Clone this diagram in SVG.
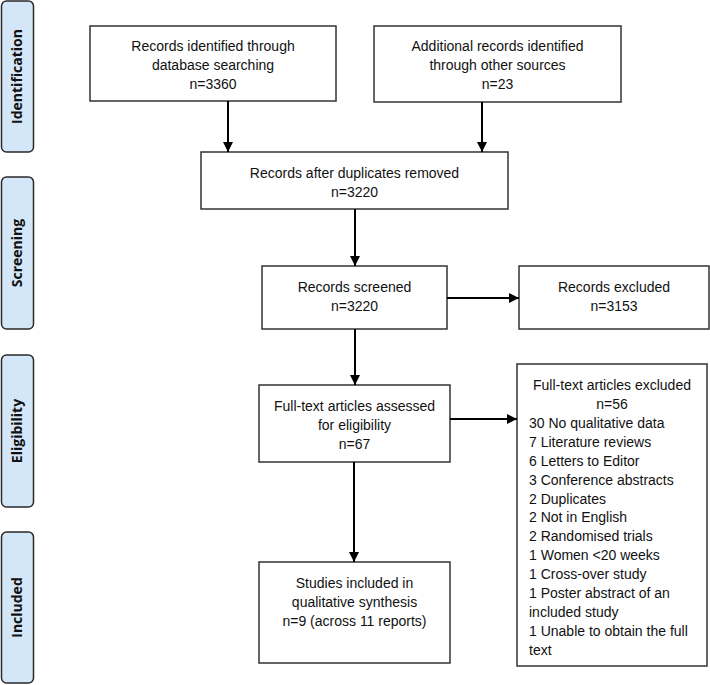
<svg xmlns="http://www.w3.org/2000/svg" width="710" height="685" viewBox="0 0 710 685">
<defs>
<marker id="ah" viewBox="0 0 10 10" refX="10" refY="5" markerWidth="5" markerHeight="5" orient="auto" markerUnits="strokeWidth">
<path d="M0,0 L10,5 L0,10 z" fill="#000"/>
</marker>
<style>
.box{fill:#fff;stroke:#333;stroke-width:1.5}
.side{fill:#d3e7f8;stroke:#2a2a2a;stroke-width:1.5}
.t{font-family:"Liberation Sans",Arial,sans-serif;font-size:14px;fill:#111;text-anchor:middle}
.tl{font-family:"Liberation Sans",Arial,sans-serif;font-size:14px;fill:#111;text-anchor:start}
.st{font-family:"Open Sans","Liberation Sans",sans-serif;font-size:14px;font-weight:bold;fill:#111;text-anchor:middle}
.c{stroke:#000;stroke-width:2;fill:none;marker-end:url(#ah)}
</style>
</defs>
<g id="side-identification"><rect class="side" x="1.5" y="1" width="32" height="151" rx="5"/><text class="st" transform="translate(22,76.5) rotate(-90)">Identification</text></g>
<g id="side-screening"><rect class="side" x="1.5" y="177" width="32" height="152" rx="5"/><text class="st" transform="translate(22,253) rotate(-90)">Screening</text></g>
<g id="side-eligibility"><rect class="side" x="1.5" y="355" width="32" height="152" rx="5"/><text class="st" transform="translate(22,431) rotate(-90)">Eligibility</text></g>
<g id="side-included"><rect class="side" x="1.5" y="532" width="32" height="151" rx="5"/><text class="st" transform="translate(22,607.5) rotate(-90)">Included</text></g>

<g id="n-db"><rect class="box" x="90" y="26" width="246" height="75"/>
<text class="t" x="213" y="51">Records identified through</text>
<text class="t" x="213" y="70">database searching</text>
<text class="t" x="213" y="89">n=3360</text></g>
<g id="n-other"><rect class="box" x="374" y="26" width="247" height="76"/>
<text class="t" x="497.5" y="51">Additional records identified</text>
<text class="t" x="497.5" y="70">through other sources</text>
<text class="t" x="497.5" y="89">n=23</text></g>
<g id="n-dup"><rect class="box" x="201" y="152" width="307" height="57"/>
<text class="t" x="354.5" y="178">Records after duplicates removed</text>
<text class="t" x="354.5" y="197">n=3220</text></g>
<g id="n-screened"><rect class="box" x="262" y="266" width="185" height="63"/>
<text class="t" x="354.5" y="292">Records screened</text>
<text class="t" x="354.5" y="311">n=3220</text></g>
<g id="n-excluded"><rect class="box" x="519" y="266" width="190" height="63"/>
<text class="t" x="614" y="292">Records excluded</text>
<text class="t" x="614" y="311">n=3153</text></g>
<g id="n-fulltext"><rect class="box" x="259" y="385" width="191" height="77"/>
<text class="t" x="354.5" y="411">Full-text articles assessed</text>
<text class="t" x="354.5" y="430">for eligibility</text>
<text class="t" x="354.5" y="449">n=67</text></g>
<g id="n-ftexcl"><rect class="box" x="517" y="364" width="190" height="302"/>
<text class="t" x="612" y="390">Full-text articles excluded</text>
<text class="t" x="612" y="409">n=56</text>
<text class="tl" x="529" y="428">30 No qualitative data</text>
<text class="tl" x="529" y="447">7 Literature reviews</text>
<text class="tl" x="529" y="466">6 Letters to Editor</text>
<text class="tl" x="529" y="485">3 Conference abstracts</text>
<text class="tl" x="529" y="504">2 Duplicates</text>
<text class="tl" x="529" y="522">2 Not in English</text>
<text class="tl" x="529" y="541">2 Randomised trials</text>
<text class="tl" x="529" y="560">1 Women &lt;20 weeks</text>
<text class="tl" x="529" y="579">1 Cross-over study</text>
<text class="tl" x="529" y="598">1 Poster abstract of an</text>
<text class="tl" x="529" y="617">included study</text>
<text class="tl" x="529" y="636">1 Unable to obtain the full</text>
<text class="tl" x="529" y="655">text</text></g>
<g id="n-included"><rect class="box" x="259" y="562" width="191" height="101"/>
<text class="t" x="354.5" y="588">Studies included in</text>
<text class="t" x="354.5" y="607">qualitative synthesis</text>
<text class="t" x="354.5" y="626">n=9 (across 11 reports)</text></g>

<g id="connectors">
<line class="c" x1="228" y1="101" x2="228" y2="152"/>
<line class="c" x1="482" y1="102" x2="482" y2="152"/>
<line class="c" x1="355" y1="209" x2="355" y2="266"/>
<line class="c" x1="447" y1="298" x2="519" y2="298"/>
<line class="c" x1="355" y1="329" x2="355" y2="385"/>
<line class="c" x1="450" y1="419" x2="517" y2="419"/>
<line class="c" x1="354" y1="462" x2="354" y2="562"/>
</g>
</svg>
